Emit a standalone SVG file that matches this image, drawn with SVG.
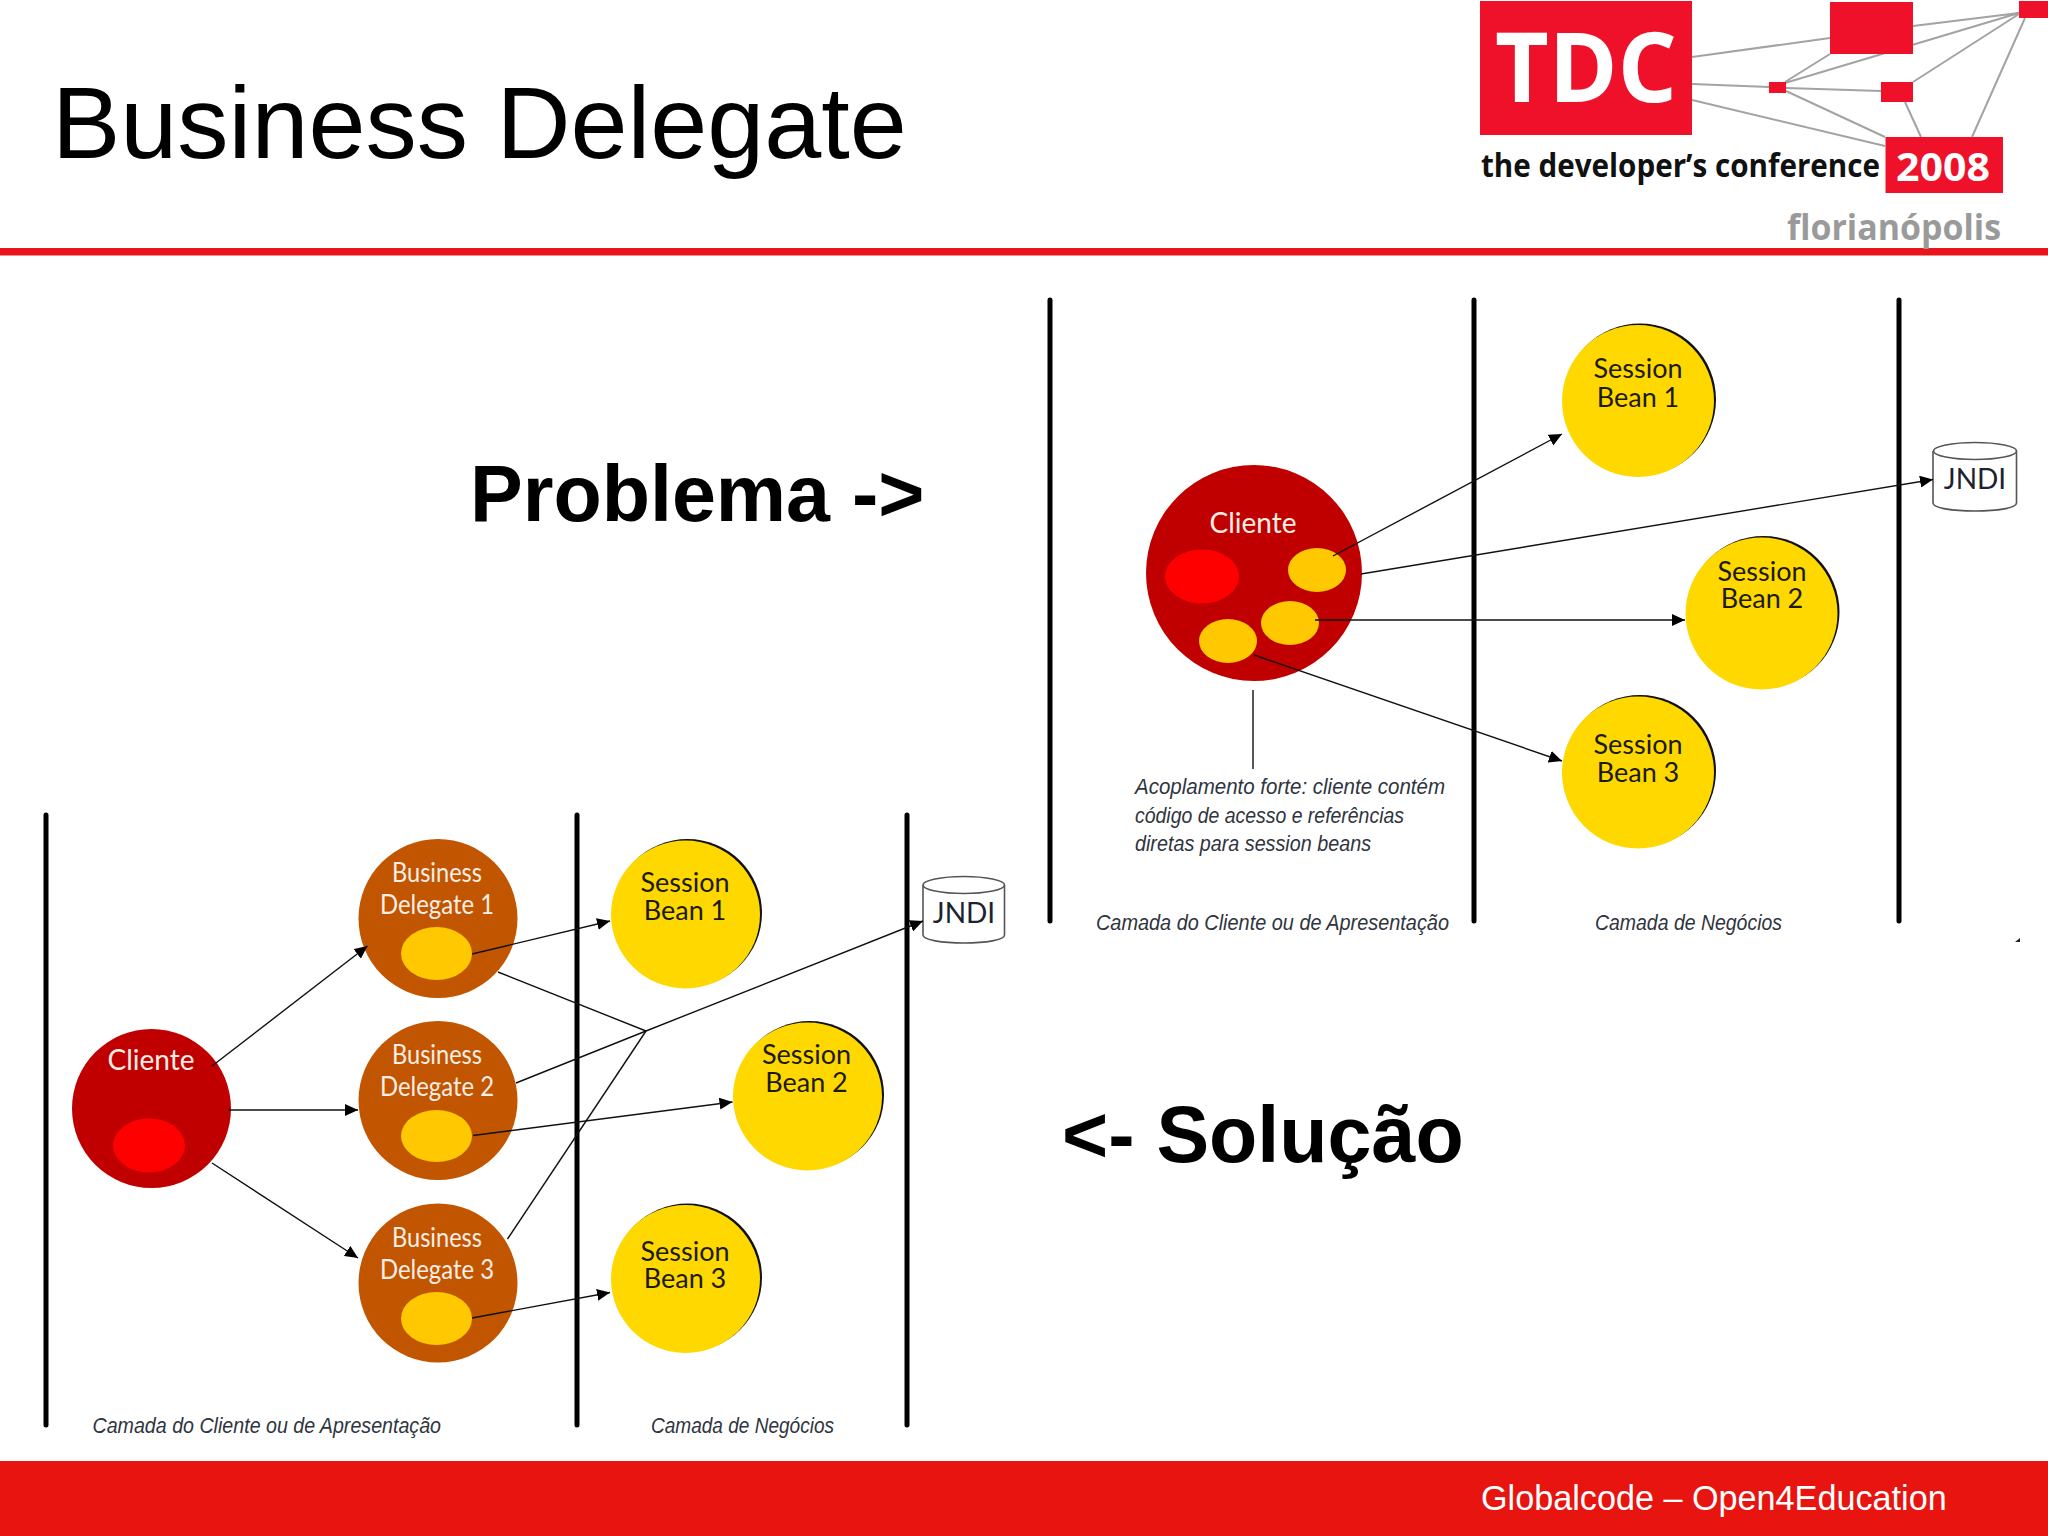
<svg xmlns="http://www.w3.org/2000/svg" width="2048" height="1536" viewBox="0 0 2048 1536">
<style>
.lane{stroke:#000;stroke-width:5;stroke-linecap:round;fill:none}
.c{stroke:#111;stroke-width:1.4;fill:none}
.a{marker-end:url(#arrow)}
.logo-l{stroke:#a3a3a3;stroke-width:2;fill:none}
.logo-r{fill:#ee1129}
.cli{fill:#c00000}
.bd{fill:#c25500}
.sb{fill:#ffd800}
.sbe{fill:#111}
.red{fill:#ff0000}
.yel{fill:#ffc800}
text{font-family:"Liberation Sans",Arial,sans-serif}
.lg{font-family:"Open Sans","Liberation Sans",sans-serif}
.w{fill:#fbeee6;text-anchor:middle;font-family:Lato,"Liberation Sans",sans-serif}
.k{fill:#1c1a08;text-anchor:middle;font-family:Lato,"Liberation Sans",sans-serif;font-size:27px}
.cap{fill:#2f3540;font-style:italic;font-size:22px}
.jn{fill:#1b2330;text-anchor:middle;font-family:Lato,"Liberation Sans",sans-serif;font-size:28px}
.cyl{fill:#fff;stroke:#555;stroke-width:1.6}
</style>
<defs>
<marker id="arrow" markerUnits="userSpaceOnUse" markerWidth="14" markerHeight="12" refX="13" refY="6" orient="auto"><path d="M0 0L13 6L0 12Z" fill="#000"/></marker>
</defs>
<rect width="2048" height="1536" fill="#fff"/>
<g id="header">
<text x="52" y="158" font-size="102.500" fill="#000">Business Delegate</text>
<rect x="0" y="248" width="2048" height="7.500" fill="#e8141a"/>
</g>
<g id="logo">
<g class="logo-l">
<path d="M1692 57L1830 38M1913 26L2019 13M1692 84L1769 87M1786 88L1881 91M1785 82L1830 54M1785 83L2019 13M1913 82L2019 14M2025 18L1972 137M1905 102L1921 137M1786 91L1885 137M1692 100L1885 146"/>
</g>
<rect class="logo-r" x="1480" y="1" width="212" height="134"/>
<rect class="logo-r" x="1830" y="2" width="83" height="52"/>
<rect class="logo-r" x="2019" y="1" width="29" height="17"/>
<rect class="logo-r" x="1769" y="82" width="17" height="11"/>
<rect class="logo-r" x="1881" y="82" width="32" height="20"/>
<rect class="logo-r" x="1885.500" y="137" width="117.500" height="56"/>
<text class="lg" x="1495" y="102" font-weight="700" font-size="96" fill="#fff" textLength="182" lengthAdjust="spacingAndGlyphs">TDC</text>
<text class="lg" x="1481" y="177" font-weight="700" font-size="33" fill="#111" textLength="399" lengthAdjust="spacingAndGlyphs">the developer’s conference</text>
<text class="lg" x="1896" y="181" font-weight="700" font-size="39" fill="#fff" textLength="94" lengthAdjust="spacingAndGlyphs">2008</text>
<text class="lg" x="1787" y="240" font-weight="700" font-size="35" fill="#9a9a9a" textLength="214" lengthAdjust="spacingAndGlyphs">florianópolis</text>
</g>
<text id="problema" x="470" y="521" font-size="79" font-weight="700" fill="#000">Problema -&gt;</text>
<text id="solucao" x="1062" y="1162" font-size="79" font-weight="700" fill="#000">&lt;- Solução</text>

<g id="lanes">
<path class="lane" d="M1050 300V921M1474 300V921M1899 300V921M46 815V1425M577 815V1425M907 815V1425"/>
</g>

<g id="top-cliente">
<circle class="cli" cx="1254" cy="573" r="108"/>
<ellipse class="red" cx="1202" cy="576.500" rx="37" ry="27"/>
<ellipse class="yel" cx="1317" cy="570" rx="29" ry="22"/>
<ellipse class="yel" cx="1290" cy="623" rx="29" ry="22"/>
<ellipse class="yel" cx="1228" cy="641" rx="29" ry="22"/>
<text class="w" x="1253" y="533" font-size="28">Cliente</text>
</g>
<g id="top-sb1"><ellipse class="sbe" cx="1640" cy="399.500" rx="76" ry="76"/><ellipse class="sb" cx="1638" cy="401" rx="76" ry="76"/><text class="k"><tspan x="1638" y="378">Session</tspan><tspan x="1638" y="407">Bean 1</tspan></text></g>
<g id="top-sb2"><ellipse class="sbe" cx="1763.500" cy="612" rx="76" ry="76"/><ellipse class="sb" cx="1761.500" cy="613.500" rx="76" ry="76"/><text class="k"><tspan x="1762" y="581">Session</tspan><tspan x="1762" y="608">Bean 2</tspan></text></g>
<g id="top-sb3"><ellipse class="sbe" cx="1640" cy="771" rx="76" ry="76"/><ellipse class="sb" cx="1638" cy="772.500" rx="76" ry="76"/><text class="k"><tspan x="1638" y="754">Session</tspan><tspan x="1638" y="782">Bean 3</tspan></text></g>
<g id="top-jndi">
<path class="cyl" d="M1933 451V503C1933 508 1952 511 1975 511C1998 511 2016.500 508 2016.500 503V451"/>
<ellipse class="cyl" cx="1975" cy="451" rx="41.500" ry="8.500"/>
<text class="jn" x="1975" y="489">JNDI</text>
</g>
<g id="top-note" class="cap">
<text x="1135" y="794" textLength="310" lengthAdjust="spacingAndGlyphs">Acoplamento forte: cliente contém</text>
<text x="1135" y="823" textLength="269" lengthAdjust="spacingAndGlyphs">código de acesso e referências</text>
<text x="1135" y="851" textLength="236" lengthAdjust="spacingAndGlyphs">diretas para session beans</text>
</g>
<text class="cap" x="1096" y="930" textLength="353" lengthAdjust="spacingAndGlyphs">Camada do Cliente ou de Apresentação</text>
<text class="cap" x="1595" y="930" textLength="187" lengthAdjust="spacingAndGlyphs">Camada de Negócios</text>
<path d="M2015 942L2020 938V942Z" fill="#222"/>

<g id="bot-cliente">
<circle class="cli" cx="151.500" cy="1108.500" r="79.500"/>
<ellipse class="red" cx="149" cy="1145.500" rx="36" ry="27"/>
<text class="w" x="151" y="1069.500" font-size="28">Cliente</text>
</g>
<g id="bd1"><circle class="bd" cx="438" cy="918.500" r="79.500"/><ellipse class="yel" cx="436.500" cy="953.500" rx="35.500" ry="26.500"/><text class="w" x="437" y="882" font-size="26" textLength="90" lengthAdjust="spacingAndGlyphs">Business</text><text class="w" x="437" y="914" font-size="26" textLength="114" lengthAdjust="spacingAndGlyphs">Delegate 1</text></g>
<g id="bd2"><circle class="bd" cx="438" cy="1100.500" r="79.500"/><ellipse class="yel" cx="436.500" cy="1136" rx="35.500" ry="26"/><text class="w" x="437" y="1064" font-size="26" textLength="90" lengthAdjust="spacingAndGlyphs">Business</text><text class="w" x="437" y="1096" font-size="26" textLength="114" lengthAdjust="spacingAndGlyphs">Delegate 2</text></g>
<g id="bd3"><circle class="bd" cx="438" cy="1283" r="79.500"/><ellipse class="yel" cx="436.500" cy="1318.500" rx="35.500" ry="26.500"/><text class="w" x="437" y="1247" font-size="26" textLength="90" lengthAdjust="spacingAndGlyphs">Business</text><text class="w" x="437" y="1279" font-size="26" textLength="114" lengthAdjust="spacingAndGlyphs">Delegate 3</text></g>
<g id="bot-sb1"><ellipse class="sbe" cx="687.500" cy="913" rx="74.500" ry="74"/><ellipse class="sb" cx="685.500" cy="914.500" rx="74.500" ry="74"/><text class="k"><tspan x="685" y="892">Session</tspan><tspan x="685" y="920">Bean 1</tspan></text></g>
<g id="bot-sb2"><ellipse class="sbe" cx="809.500" cy="1095" rx="74.500" ry="74"/><ellipse class="sb" cx="807.500" cy="1096.500" rx="74.500" ry="74"/><text class="k"><tspan x="806.500" y="1064">Session</tspan><tspan x="806.500" y="1092">Bean 2</tspan></text></g>
<g id="bot-sb3"><ellipse class="sbe" cx="687.500" cy="1277.500" rx="74.500" ry="74"/><ellipse class="sb" cx="685.500" cy="1279" rx="74.500" ry="74"/><text class="k"><tspan x="685" y="1261">Session</tspan><tspan x="685" y="1288">Bean 3</tspan></text></g>
<g id="bot-jndi">
<path class="cyl" d="M923 885V935C923 940 942 943 964 943C986 943 1004.500 940 1004.500 935V885"/>
<ellipse class="cyl" cx="963.750" cy="885" rx="40.750" ry="8.500"/>
<text class="jn" x="964" y="923">JNDI</text>
</g>
<text class="cap" x="92.500" y="1433" textLength="348.500" lengthAdjust="spacingAndGlyphs">Camada do Cliente ou de Apresentação</text>
<text class="cap" x="651" y="1433" textLength="183" lengthAdjust="spacingAndGlyphs">Camada de Negócios</text>

<g id="connectors">
<path class="c a" d="M1333 556L1562 434"/>
<path class="c a" d="M1361 574L1933 479.500"/>
<path class="c a" d="M1315 620H1685"/>
<path class="c a" d="M1254 655L1562 761"/>
<path class="c" d="M1253 690V769"/>
<path class="c a" d="M212 1066L367.500 946"/>
<path class="c a" d="M228 1110H358"/>
<path class="c a" d="M212 1163L358 1258"/>
<path class="c a" d="M472 954L610 921"/>
<path class="c a" d="M473 1135.500L732.500 1102"/>
<path class="c a" d="M472 1318L610 1292.500"/>
<path class="c" d="M498 972L646 1031"/>
<path class="c" d="M507.500 1239L646 1031"/>
<path class="c a" d="M516 1083L646 1031L923 921"/>
</g>
<g id="footer">
<rect x="0" y="1461" width="2048" height="75" fill="#e8140f"/>
<text x="1481" y="1510" font-size="34.200" fill="#fff">Globalcode – Open4Education</text>
</g>
</svg>
